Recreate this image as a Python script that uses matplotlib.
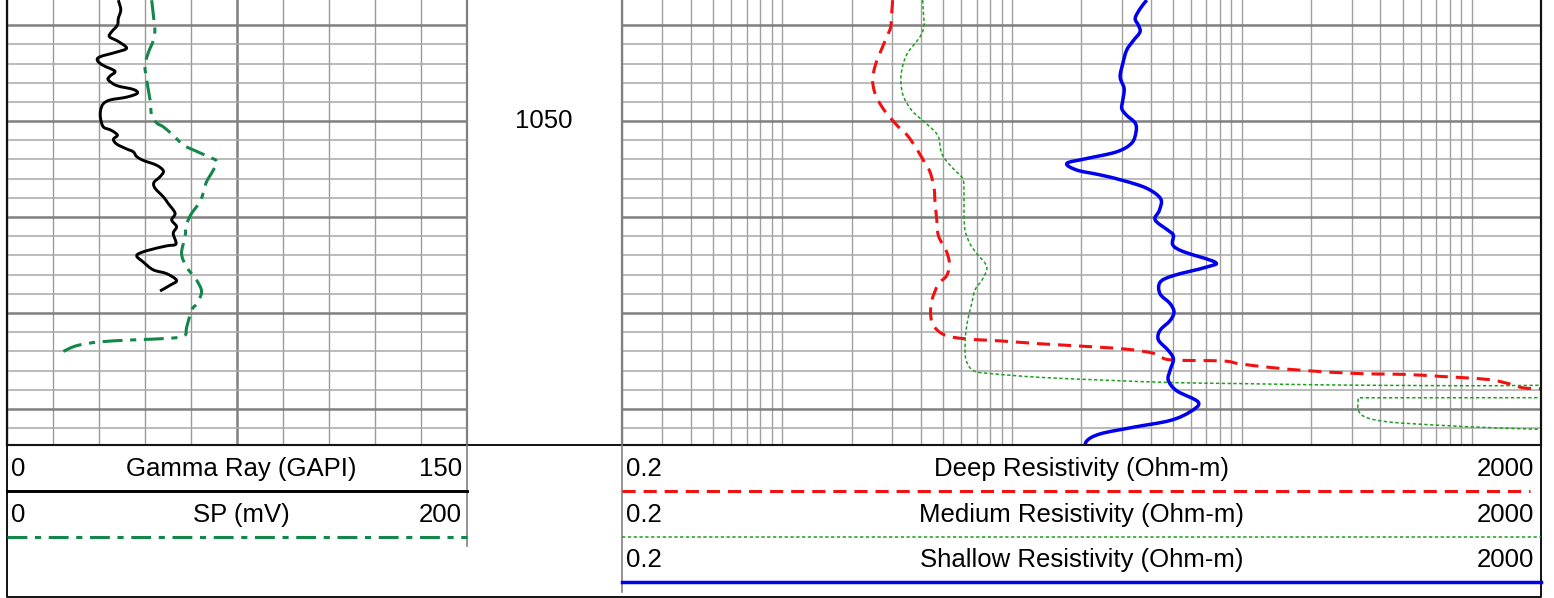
import matplotlib
matplotlib.use("Agg")
import matplotlib.pyplot as plt
import numpy as np
from matplotlib.ticker import FixedLocator, MultipleLocator, LogLocator, NullFormatter
from matplotlib.transforms import blended_transform_factory
from matplotlib.path import Path
from matplotlib.patches import PathPatch

plt.rcParams['font.family'] = ['Liberation Sans', 'DejaVu Sans']

# ---- log data (depth in m) ----
gr_depth = [1037.4, 1038.4, 1039.3, 1040.0, 1040.7, 1041.2, 1041.7, 1042.4, 1042.8, 1043.3,
            1043.7, 1044.2, 1044.8, 1045.3, 1045.7, 1046.3, 1046.7, 1047.1, 1047.5, 1047.8,
            1048.2, 1048.9, 1049.7, 1050.6, 1050.9, 1051.2, 1051.5, 1051.9, 1052.4, 1052.9,
            1053.2, 1053.7, 1054.1, 1054.6, 1055.2, 1055.8, 1056.4, 1057.0, 1057.9, 1058.6,
            1059.6, 1060.3, 1061.0, 1061.7, 1062.8, 1063.0, 1063.5, 1064.0, 1064.7, 1065.5,
            1065.9, 1066.6, 1067.1, 1067.7]
gr_vals = [36.3, 37.1, 36.3, 36.0, 34.1, 33.4, 36.3, 39.0, 35.8, 30.3,
           29.5, 31.4, 35.2, 33.6, 33.0, 35.8, 41.2, 42.5, 39.0, 33.6,
           31.4, 30.5, 30.5, 31.4, 33.6, 35.2, 36.0, 34.7, 35.8, 39.0,
           41.2, 42.3, 44.5, 48.8, 51.0, 49.9, 47.9, 48.3, 51.0, 52.6,
           54.8, 53.7, 55.3, 54.2, 55.1, 52.1, 45.6, 42.3, 44.5, 47.7,
           52.1, 55.3, 53.2, 49.9]

sp_depth = [1037.4, 1039.5, 1040.5, 1041.6, 1042.9, 1044.2, 1045.7, 1047.8, 1049.4, 1050.2,
            1050.6, 1051.5, 1052.5, 1053.0, 1053.7, 1054.2, 1055.1, 1056.3, 1057.2, 1058.4,
            1059.6, 1060.3, 1061.0, 1062.1, 1063.8, 1065.2, 1066.6, 1067.8, 1069.0, 1069.7,
            1071.5, 1072.3, 1072.6, 1072.8, 1073.0, 1073.4, 1074.0]
sp_vals = [62.9, 63.9, 64.3, 63.6, 61.4, 60.0, 60.7, 62.2, 62.9, 65.1,
           68.0, 72.3, 76.7, 81.0, 87.5, 91.2, 89.7, 86.8, 85.7, 83.9,
           80.3, 78.8, 77.8, 77.4, 75.9, 78.1, 82.5, 84.6, 82.5, 80.3,
           78.1, 77.4, 72.3, 54.9, 40.4, 30.3, 24.5]

deep_depth = [1037.4, 1038.8, 1040.2, 1041.2, 1042.9, 1044.3, 1045.7, 1047.1, 1048.5, 1049.6,
              1050.6, 1051.6, 1053.2, 1054.4, 1055.3, 1056.9, 1058.6, 1060.3, 1061.4, 1062.2,
              1063.5, 1064.8, 1066.1, 1067.0, 1068.7, 1070.1, 1071.3, 1072.3, 1072.7, 1072.9,
              1073.2, 1073.5, 1073.8, 1074.2, 1074.6, 1074.9, 1075.0, 1075.3, 1075.7, 1076.0,
              1076.3, 1076.4, 1076.6, 1076.8, 1077.0, 1077.4, 1077.8, 1077.9]
deep_vals = [3.02, 2.99, 2.96, 2.85, 2.66, 2.53, 2.47, 2.53, 2.71, 2.94,
             3.20, 3.53, 3.91, 4.18, 4.39, 4.57, 4.62, 4.70, 4.73, 4.82,
             5.16, 5.33, 5.19, 4.77, 4.47, 4.42, 4.54, 5.10, 6.34, 8.86,
             13.2, 21.8, 32.6, 41.2, 44.3, 50.3, 83.0, 98.1, 137, 191,
             316, 521, 728, 1016, 1242, 1467, 1677, 1982]

med_depth = [1037.4, 1038.8, 1040.0, 1040.9, 1041.7, 1042.8, 1044.0, 1045.4, 1046.8, 1047.8,
             1048.9, 1049.7, 1050.6, 1051.6, 1053.4, 1054.8, 1056.0, 1057.5, 1059.6, 1061.4,
             1062.8, 1063.8, 1064.8, 1065.5, 1066.6, 1067.6, 1069.0, 1070.4, 1071.8, 1073.2,
             1074.9, 1076.0, 1076.3, 1076.7, 1077.0, 1077.25, 1077.35, 1077.46, 1077.53, 1077.58,
             1077.64, 1078.82, 1078.83, 1080.14, 1080.9, 1081.36, 1081.7, 1081.94, 1082.12, 1082.25]
med_vals = [4.08, 4.11, 4.14, 4.04, 3.84, 3.53, 3.36, 3.28, 3.31, 3.42,
            3.66, 3.97, 4.39, 4.77, 4.94, 5.46, 6.09, 6.17, 6.17, 6.24,
            6.56, 7.01, 7.62, 7.75, 7.37, 6.89, 6.67, 6.45, 6.30, 6.24,
            6.30, 6.78, 8.01, 13.2, 25.8, 50.3, 98.1, 191, 373, 983,
            2600, 2600, 321, 321, 349, 441, 728, 1201, 1982, 2600]
med_corners = [41, 42]  # sharp corners where the curve jumps back on scale

sh_depth = [1037.4, 1038.3, 1039.3, 1040.0, 1040.7, 1041.6, 1042.6, 1044.0, 1045.4, 1046.6,
            1047.8, 1048.7, 1049.4, 1050.2, 1051.1, 1052.3, 1053.2, 1053.9, 1054.4, 1055.1,
            1055.6, 1056.2, 1057.0, 1058.1, 1059.3, 1060.3, 1061.4, 1061.9, 1062.9, 1063.6,
            1064.7, 1065.2, 1066.1, 1066.8, 1068.0, 1069.0, 1069.9, 1070.8, 1071.8, 1072.8,
            1073.9, 1074.8, 1076.0, 1077.0, 1078.1, 1079.3, 1080.3, 1081.2, 1081.9, 1082.6,
            1083.4, 1084.5]
sh_vals = [38.5, 36.0, 34.3, 35.4, 36.0, 33.7, 31.5, 30.3, 29.5, 30.7,
           30.3, 30.0, 31.5, 34.3, 34.6, 33.1, 28.5, 21.1, 17.3, 19.1,
           24.1, 30.5, 38.5, 44.3, 43.7, 41.9, 47.8, 50.3, 50.0, 55.6,
           76.4, 70.3, 50.3, 44.0, 44.0, 48.6, 50.6, 48.6, 44.0, 43.3,
           47.8, 50.3, 48.6, 47.8, 52.0, 64.6, 59.4, 48.6, 33.7, 24.1,
           21.0, 21.0]

depth_top, depth_bot = 1037.38, 1083.75
depth_label = 1050

# ---- styles ----
W, H = 1554, 598
c_gr, c_sp = '#000000', '#13874a'
c_deep, c_med, c_sh = '#f21111', '#1f9e1f', '#0000ee'
sp_dash = (6.5, 2.5, 2.0, 2.5)
deep_dash = (4.3, 2.6)
med_dash = (2.2, 1.6)
fs = 18.5


def smooth_path(xs, ys, logx=False, corners=()):
    # smoothed line through the points (like a spreadsheet "smoothed line")
    x = np.log10(xs) if logx else np.asarray(xs, float)
    p = np.column_stack([x, np.asarray(ys, float)])
    n = len(p)
    tang = np.zeros_like(p)
    for i in range(n):
        if i in corners:
            continue
        tang[i] = (p[min(i + 1, n - 1)] - p[max(i - 1, 0)]) / 6
    verts, codes = [p[0]], [Path.MOVETO]
    for i in range(n - 1):
        verts += [p[i] + tang[i], p[i + 1] - tang[i + 1], p[i + 1]]
        codes += [Path.CURVE4] * 3
    verts = np.array(verts)
    if logx:
        verts[:, 0] = 10 ** verts[:, 0]
    return Path(verts, codes)


def draw_curve(ax, xs, ys, color, lw, dashes=None, logx=False, corners=()):
    ls = (0, dashes) if dashes else '-'
    patch = PathPatch(smooth_path(xs, ys, logx, corners), fill=False, edgecolor=color, lw=lw,
                      linestyle=ls, capstyle='butt', joinstyle='round', zorder=3)
    ax.add_patch(patch)


fig = plt.figure(figsize=(W / 100, H / 100), dpi=100)


def fx(px):
    return px / W


def fy(py):
    return 1 - py / H


x_l0, x_l1 = 7, 467
x_r0, x_r1 = 621.7, 1541
y_bot = 445

ax_gr = fig.add_axes([fx(x_l0), fy(y_bot), (x_l1 - x_l0) / W, y_bot / H])
ax_res = fig.add_axes([fx(x_r0), fy(y_bot), (x_r1 - x_r0) / W, y_bot / H])

for ax in (ax_gr, ax_res):
    ax.yaxis.set_major_locator(FixedLocator(np.arange(1040, 1081, 10)))
    ax.yaxis.set_minor_locator(FixedLocator(np.arange(1042, 1084, 2)))
    ax.grid(which='minor', axis='y', color='#a8a8a8', lw=1.1, zorder=0)
    ax.grid(which='major', axis='y', color='#808080', lw=1.8, zorder=0)
    ax.tick_params(which='both', length=0, labelleft=False, labelbottom=False)
    ax.spines['top'].set_visible(False)
    for s in ('left', 'right', 'bottom'):
        ax.spines[s].set_color('#808080')
        ax.spines[s].set_linewidth(1.6)
    ax.set_axisbelow(True)

# gamma ray / SP track
ax_gr.xaxis.set_major_locator(FixedLocator([75]))
ax_gr.xaxis.set_minor_locator(MultipleLocator(15))
ax_gr.grid(which='minor', axis='x', color='#9a9a9a', lw=1.0)
ax_gr.grid(which='major', axis='x', color='#808080', lw=1.8)
ax_gr.spines['left'].set_color('#222222')
draw_curve(ax_gr, gr_vals, gr_depth, c_gr, 2.1)
ax_gr.set_xlim(0, 150)
ax_gr.set_ylim(depth_bot, depth_top)

ax_sp = ax_gr.twiny()
ax_sp.axis('off')
draw_curve(ax_sp, sp_vals, sp_depth, c_sp, 2.2, sp_dash)
ax_sp.set_xlim(0, 200)
ax_sp.set_ylim(depth_bot, depth_top)

# resistivity track
ax_res.set_xscale('log')
ax_res.xaxis.set_major_locator(LogLocator(base=10))
ax_res.xaxis.set_minor_locator(LogLocator(base=10, subs=np.arange(2, 10)))
ax_res.xaxis.set_minor_formatter(NullFormatter())
ax_res.grid(which='both', axis='x', color='#a0a0a0', lw=1.0)
ax_res.spines['right'].set_color('#333333')
draw_curve(ax_res, deep_vals, deep_depth, c_deep, 2.2, deep_dash, logx=True)
draw_curve(ax_res, med_vals, med_depth, c_med, 1.1, med_dash, logx=True, corners=med_corners)
draw_curve(ax_res, sh_vals, sh_depth, c_sh, 2.5, logx=True)
ax_res.set_xlim(0.2, 2000)
ax_res.set_ylim(depth_bot, depth_top)

# depth label in the middle track
tr = blended_transform_factory(fig.transFigure, ax_gr.transData)
ax_gr.text(fx(544), depth_label, str(depth_label), transform=tr, ha='center', va='center',
           fontsize=fs, clip_on=False)

# ---- header / frame in pixel coordinates ----
fr = fig.add_axes([0, 0, 1, 1])
fr.set_xlim(0, W)
fr.set_ylim(H, 0)
fr.axis('off')
fr.patch.set_alpha(0)

fr.plot([x_l0, x_r1], [y_bot, y_bot], color='#111111', lw=1.4)
fr.plot([x_l0, x_l0, x_r1, x_r1], [0, 597, 597, 0], color='#111111', lw=1.4)
fr.plot([x_l1, x_l1], [y_bot, 546], color='#808080', lw=1.2)
fr.plot([x_r0, x_r0], [y_bot, 592], color='#808080', lw=1.2)

# legend lines
fr.plot([x_l0, x_l1], [491, 491], color=c_gr, lw=2.1)
fr.plot([x_l0, x_l1], [537, 537], color=c_sp, lw=2.2, dashes=sp_dash)
fr.plot([x_r0, 1530], [491, 491], color=c_deep, lw=2.2, dashes=deep_dash)
fr.plot([x_r0, x_r1], [537, 537], color=c_med, lw=1.1, dashes=med_dash)
fr.plot([x_r0, x_r1], [582, 582], color=c_sh, lw=2.5)

left_rows = [("0", "Gamma Ray (GAPI)", "150", 469), ("0", "SP (mV)", "200", 515)]
for lo, name, hi, yy in left_rows:
    fr.text(x_l0 + 4, yy, lo, ha='left', va='center', fontsize=fs)
    fr.text((x_l0 + x_l1) / 2 + 4, yy, name, ha='center', va='center', fontsize=fs)
    fr.text(x_l1 - 5, yy, hi, ha='right', va='center', fontsize=fs)

right_rows = [("0.2", "Deep Resistivity (Ohm-m)", "2000", 469),
              ("0.2", "Medium Resistivity (Ohm-m)", "2000", 515),
              ("0.2", "Shallow Resistivity (Ohm-m)", "2000", 560)]
for lo, name, hi, yy in right_rows:
    fr.text(x_r0 + 4, yy, lo, ha='left', va='center', fontsize=fs)
    fr.text((x_r0 + x_r1) / 2, yy, name, ha='center', va='center', fontsize=fs)
    fr.text(x_r1 - 7, yy, hi, ha='right', va='center', fontsize=fs)

fig.savefig("out.png", dpi=100)
